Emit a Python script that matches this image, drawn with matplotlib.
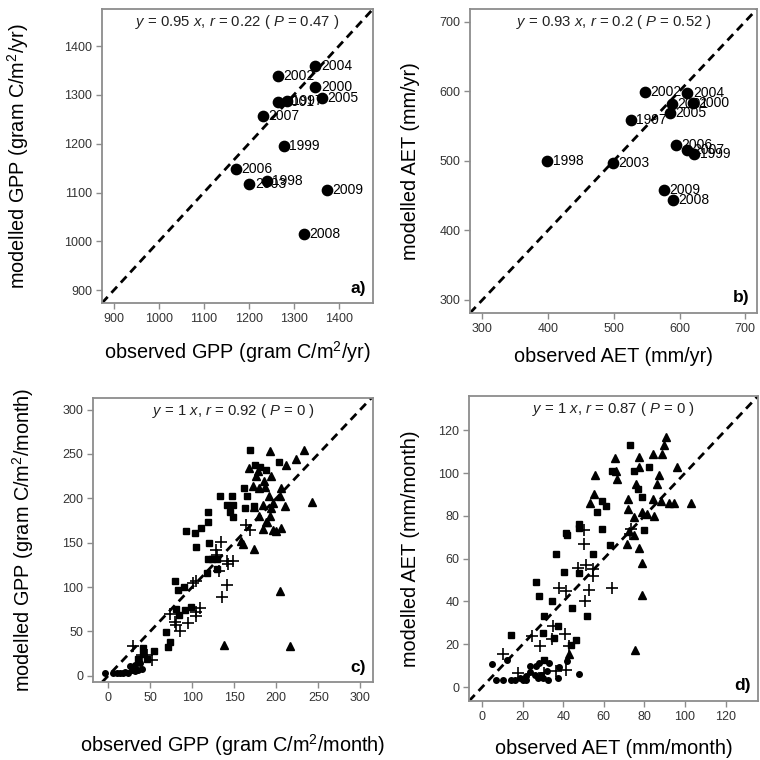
import matplotlib
matplotlib.use("Agg")
import matplotlib.pyplot as plt

plt.rcParams['font.family'] = ['Liberation Sans', 'DejaVu Sans']
plt.rcParams['mathtext.fontset'] = 'custom'
plt.rcParams['mathtext.rm'] = 'Liberation Sans'
plt.rcParams['mathtext.it'] = 'Liberation Sans:italic'

# panel a: annual GPP
years_a = ['2004', '2002', '2000', '2005', '2001', '1997', '2007', '1999',
           '2006', '2003', '1998', '2009', '2008']
obs_gpp_yr = [1348, 1264, 1348, 1362, 1264, 1284, 1231, 1278, 1171, 1201, 1240, 1373, 1323]
mod_gpp_yr = [1360, 1338, 1317, 1293, 1286, 1288, 1256, 1195, 1149, 1118, 1123, 1106, 1016]

# panel b: annual AET
years_b = ['2002', '2004', '2001', '2000', '2005', '1997', '2006', '2007',
           '1999', '1998', '2003', '2009', '2008']
obs_aet_yr = [547, 612, 588, 620, 585, 526, 594, 612, 622, 399, 498, 576, 590]
mod_aet_yr = [599, 597, 581, 583, 569, 558, 523, 515, 510, 500, 496, 458, 444]

# panel c: monthly GPP, four groups of months
c_sq_x = [169, 175, 181, 203, 161, 165, 163, 133, 141, 147, 149, 145, 149, 119, 119, 111,
          103, 93, 105, 120, 119, 124, 130, 129, 117, 80, 83, 90, 98, 91, 81, 69, 73, 71,
          84, 42, 42, 54, 46, 36, 188, 173]
c_sq_y = [254, 238, 235, 241, 212, 203, 189, 203, 193, 203, 192, 184, 179, 185, 173, 167,
          161, 163, 145, 150, 132, 132, 132, 120, 116, 107, 97, 100, 78, 74, 75, 49, 38, 33,
          69, 31, 25, 28, 19, 19, 232, 191]
c_tri_x = [193, 233, 223, 211, 168, 178, 176, 194, 185, 172, 180, 187, 206, 204, 191, 196,
           184, 173, 194, 210, 180, 193, 188, 184, 196, 206, 200, 158, 160, 174, 243, 204,
           138, 216, 189]
c_tri_y = [253, 254, 244, 238, 234, 231, 225, 225, 220, 214, 212, 213, 212, 203, 203, 195,
           192, 190, 189, 191, 180, 180, 173, 165, 164, 166, 163, 152, 148, 143, 196, 95,
           35, 34, 173]
c_plus_x = [164, 169, 134, 128, 130, 141, 149, 143, 132, 104, 101, 141, 136, 109, 105, 105,
            95, 73, 79, 81, 85, 30, 40, 52, 46]
c_plus_y = [170, 164, 151, 142, 136, 129, 129, 126, 118, 107, 105, 102, 89, 76, 72, 67,
            59, 70, 61, 57, 51, 34, 23, 18, 23]
c_dot_x = [-4, 6, 14, 20, 24, 28, 32, 36, 40, 32, 26, 38, 10, 18]
c_dot_y = [3, 3, 3, 4, 3, 6, 5, 7, 8, 12, 11, 14, 3, 3]

# panel d: monthly AET, same groups
d_tri_x = [90.4, 89.5, 88.7, 84.3, 77.3, 65.5, 96, 77.3, 66, 66.7, 87, 55.7, 75.7, 86, 55,
           53, 72, 84.3, 88, 92, 94.8, 103, 72, 74.8, 78.6, 84.6, 81.4, 72.4, 74.8, 77.3,
           78.6, 78.6, 75.3, 43, 71.6]
d_tri_y = [117, 113, 109, 109, 107.6, 107, 103, 103, 101, 97, 99, 99, 95, 95, 90, 86, 88,
           88, 87, 86, 86, 86, 83, 79.5, 82, 80, 81, 73, 71, 65, 58, 43, 17.5, 15.6, 67]
d_sq_x = [72.9, 64.2, 74.8, 82.5, 77, 78.6, 59.3, 61, 56.5, 47.5, 47.9, 41.3, 42, 59, 79.7,
          63, 54.4, 36.4, 40.2, 47.9, 26.3, 28, 34.5, 44.3, 51.5, 30.4, 37.3, 29.9, 35.6,
          46.2, 43.8, 14, 30.7]
d_sq_y = [113, 101, 101, 103, 92.6, 89, 87, 84.5, 82, 76.4, 74.4, 72, 71, 74, 73.6, 66.6,
          62, 62, 53.8, 53.3, 49, 42.4, 40, 37, 33, 33, 28.4, 25.3, 23, 22, 19.8, 24.5, 12.8]
d_plus_x = [50.3, 50.3, 51, 54.4, 54.4, 47, 37.7, 41.3, 52.5, 50.8, 63.9, 73.2, 72.7, 24.7,
            28.3, 34.8, 41, 42.6, 34.5, 10.3, 17.6, 41.3, 36.4, 30.7]
d_plus_y = [73.6, 67, 57, 55, 52, 55.6, 46.3, 44.7, 45.5, 40, 46.3, 74, 71.7, 23.7, 19.3,
            28.4, 25, 19.3, 22.4, 15.6, 6.5, 7.8, 7.3, 6.5]
d_dot_x = [4.6, 7, 10.3, 16, 18.5, 21.7, 23.4, 26, 26.6, 28, 23.7, 29, 31.9, 33, 37.3, 37.7,
           42, 47.5, 12, 20, 14.4, 29.9, 32.4, 21.7, 27.4]
d_dot_y = [11, 3.4, 3.4, 3.4, 4.2, 5, 6.9, 5.8, 9.7, 11.2, 9.7, 5.8, 7.6, 11.2, 4.2, 9.2,
           12, 6.1, 12.8, 3.4, 3.4, 4.2, 3.4, 3.4, 4.2]

titles = [r'$y$ = 0.95 $x$, $r$ = 0.22 ( $P$ = 0.47 )',
          r'$y$ = 0.93 $x$, $r$ = 0.2 ( $P$ = 0.52 )',
          r'$y$ = 1 $x$, $r$ = 0.92 ( $P$ = 0 )',
          r'$y$ = 1 $x$, $r$ = 0.87 ( $P$ = 0 )']

W = 760.0
fig = plt.figure(figsize=(7.6, 7.6), dpi=100)


def make_ax(l, r, t, b):
    return fig.add_axes([l / W, (W - b) / W, (r - l) / W, (b - t) / W])


def style(ax, lims_x, lims_y, ticks, title, letter, xlab, ylab, xl_y, yl_x, px_w, px_h):
    ax.set_xlim(*lims_x)
    ax.set_ylim(*lims_y)
    ax.set_xticks(ticks)
    ax.set_yticks(ticks)
    for s in ax.spines.values():
        s.set_color('#8c8c8c')
        s.set_linewidth(1.3)
    ax.tick_params(direction='out', length=4.5, width=1, color='#8c8c8c',
                   labelsize=9, labelcolor='#333333', pad=2.5)
    ax.axline((0, 0), slope=1, color='black', lw=2, ls=(0, (3, 2)), zorder=1)
    ax.text(0.5, 1 - 13 / px_h, title, transform=ax.transAxes, ha='center',
            va='center', fontsize=10.7, color='#222222')
    ax.text(0.975, 0.025, letter, transform=ax.transAxes, ha='right', va='bottom',
            fontsize=12.5, fontweight='bold')
    ax.set_xlabel(xlab, fontsize=14.3, va='center')
    ax.set_ylabel(ylab, fontsize=14.3, va='center')
    ax.xaxis.set_label_coords(0.5, -xl_y / px_h)
    ax.yaxis.set_label_coords(-yl_x / px_w, 0.5)


# a
ax = make_ax(102, 373, 9, 303)
style(ax, (874, 1476), (874, 1476), [900, 1000, 1100, 1200, 1300, 1400], titles[0], 'a)',
      r'observed GPP (gram C/m$^2$/yr)', r'modelled GPP (gram C/m$^2$/yr)', 49, 84, 271, 294)
ax.scatter(obs_gpp_yr, mod_gpp_yr, s=55, color='black', zorder=3)
for x, y, t in zip(obs_gpp_yr, mod_gpp_yr, years_a):
    ax.annotate(t, (x, y), xytext=(4, 0), textcoords='offset points', ha='left',
                va='center', fontsize=10)

# b
ax = make_ax(470, 757, 9, 313)
style(ax, (281, 718), (281, 718), [300, 400, 500, 600, 700], titles[1], 'b)',
      'observed AET (mm/yr)', 'modelled AET (mm/yr)', 43, 60, 287, 304)
ax.scatter(obs_aet_yr, mod_aet_yr, s=55, color='black', zorder=3)
for x, y, t in zip(obs_aet_yr, mod_aet_yr, years_b):
    ax.annotate(t, (x, y), xytext=(4, 0), textcoords='offset points', ha='left',
                va='center', fontsize=10)

# c
ax = make_ax(93, 373, 398, 682)
style(ax, (-18, 315), (-7, 313), [0, 50, 100, 150, 200, 250, 300], titles[2], 'c)',
      r'observed GPP (gram C/m$^2$/month)', r'modelled GPP (gram C/m$^2$/month)',
      63, 70, 280, 284)
ax.plot(c_sq_x, c_sq_y, 's', color='black', ms=5, zorder=3)
ax.plot(c_tri_x, c_tri_y, '^', color='black', ms=6, zorder=3)
ax.plot(c_plus_x, c_plus_y, '+', color='black', ms=8, mew=1.2, zorder=3)
ax.plot(c_dot_x, c_dot_y, 'o', color='black', ms=4, zorder=3)

# d
ax = make_ax(469, 758, 396, 701)
style(ax, (-6.5, 136), (-6.5, 136), [0, 20, 40, 60, 80, 100, 120], titles[3], 'd)',
      'observed AET (mm/month)', 'modelled AET (mm/month)', 47, 59, 289, 305)
ax.plot(d_sq_x, d_sq_y, 's', color='black', ms=5, zorder=3)
ax.plot(d_tri_x, d_tri_y, '^', color='black', ms=6, zorder=3)
ax.plot(d_plus_x, d_plus_y, '+', color='black', ms=8, mew=1.2, zorder=3)
ax.plot(d_dot_x, d_dot_y, 'o', color='black', ms=4, zorder=3)

fig.savefig('out.png', dpi=100)
